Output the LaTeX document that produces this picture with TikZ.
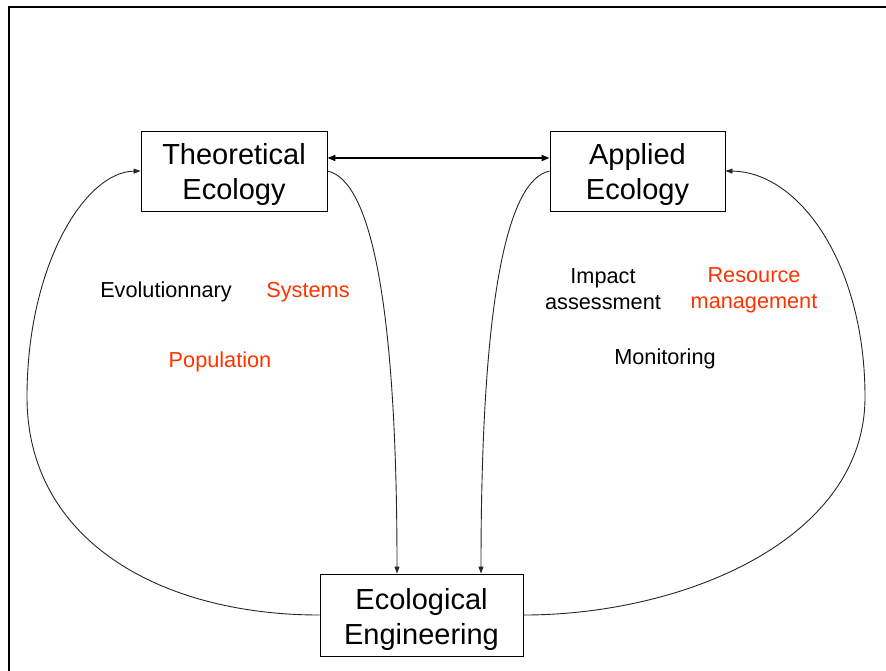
\documentclass[tikz,border=0pt]{standalone}
\usepackage{fontspec}
\setmainfont{Liberation Sans}
\usetikzlibrary{arrows.meta}
\definecolor{accent}{RGB}{255,51,0}
\newcommand{\topstrut}{\rule{0pt}{29pt}}
\begin{document}
\begin{tikzpicture}[x=1pt,y=-1pt,
  box/.style={draw, line width=0.9pt, align=center, inner sep=0pt,
    font=\fontsize{29}{35}\selectfont},
  lab/.style={align=center, inner sep=0pt, font=\fontsize{21.7}{26}\selectfont},
  link/.style={draw=black!85, line width=0.9pt, -{Triangle[length=7pt,width=5pt]}}]
\useasboundingbox (0,0) rectangle (886,670);
\fill[white] (0,0) rectangle (886,670);
\draw[line width=2.6pt] (9,672) -- (9,7) -- (888,7);

\node[box, minimum width=186pt, minimum height=80pt] (theo) at (234,171) {\topstrut Theoretical\\Ecology};
\node[box, minimum width=175pt, minimum height=80pt] (app) at (637.5,171) {\topstrut Applied\\Ecology};
\node[box, minimum width=203pt, minimum height=82pt] (eng) at (421.5,615) {\topstrut Ecological\\Engineering};

\draw[line width=1.8pt, {Triangle[length=8pt,width=6pt]}-{Triangle[length=8pt,width=6pt]}]
  ([yshift=13pt]theo.east) -- ([yshift=13pt]app.west);

\draw[link] (eng.west) .. controls (160,615) and (27,540) .. (27,397)
  .. controls (27,265) and (85,172) .. (theo.west);
\draw[link] (eng.east) .. controls (683,615) and (865,540) .. (865,397)
  .. controls (865,265) and (800,172) .. (app.east);
\draw[link] (theo.east) .. controls (370,180) and (397,300) .. ([xshift=-24.5pt]eng.north);
\draw[link] (app.west) .. controls (507,180) and (481,300) .. ([xshift=59.5pt]eng.north);

\node[lab] (evo) at (166,292) {Evolutionnary};
\node[lab, text=accent] (sys) at (308,292) {Systems};
\node[lab, text=accent] (pop) at (220,362) {Population};
\node[lab] (imp) at (603,289) {Impact\\assessment};
\node[lab, text=accent] (res) at (754,290.5) {Resource\\management};
\node[lab] (mon) at (665,359) {Monitoring};
\end{tikzpicture}
\end{document}
